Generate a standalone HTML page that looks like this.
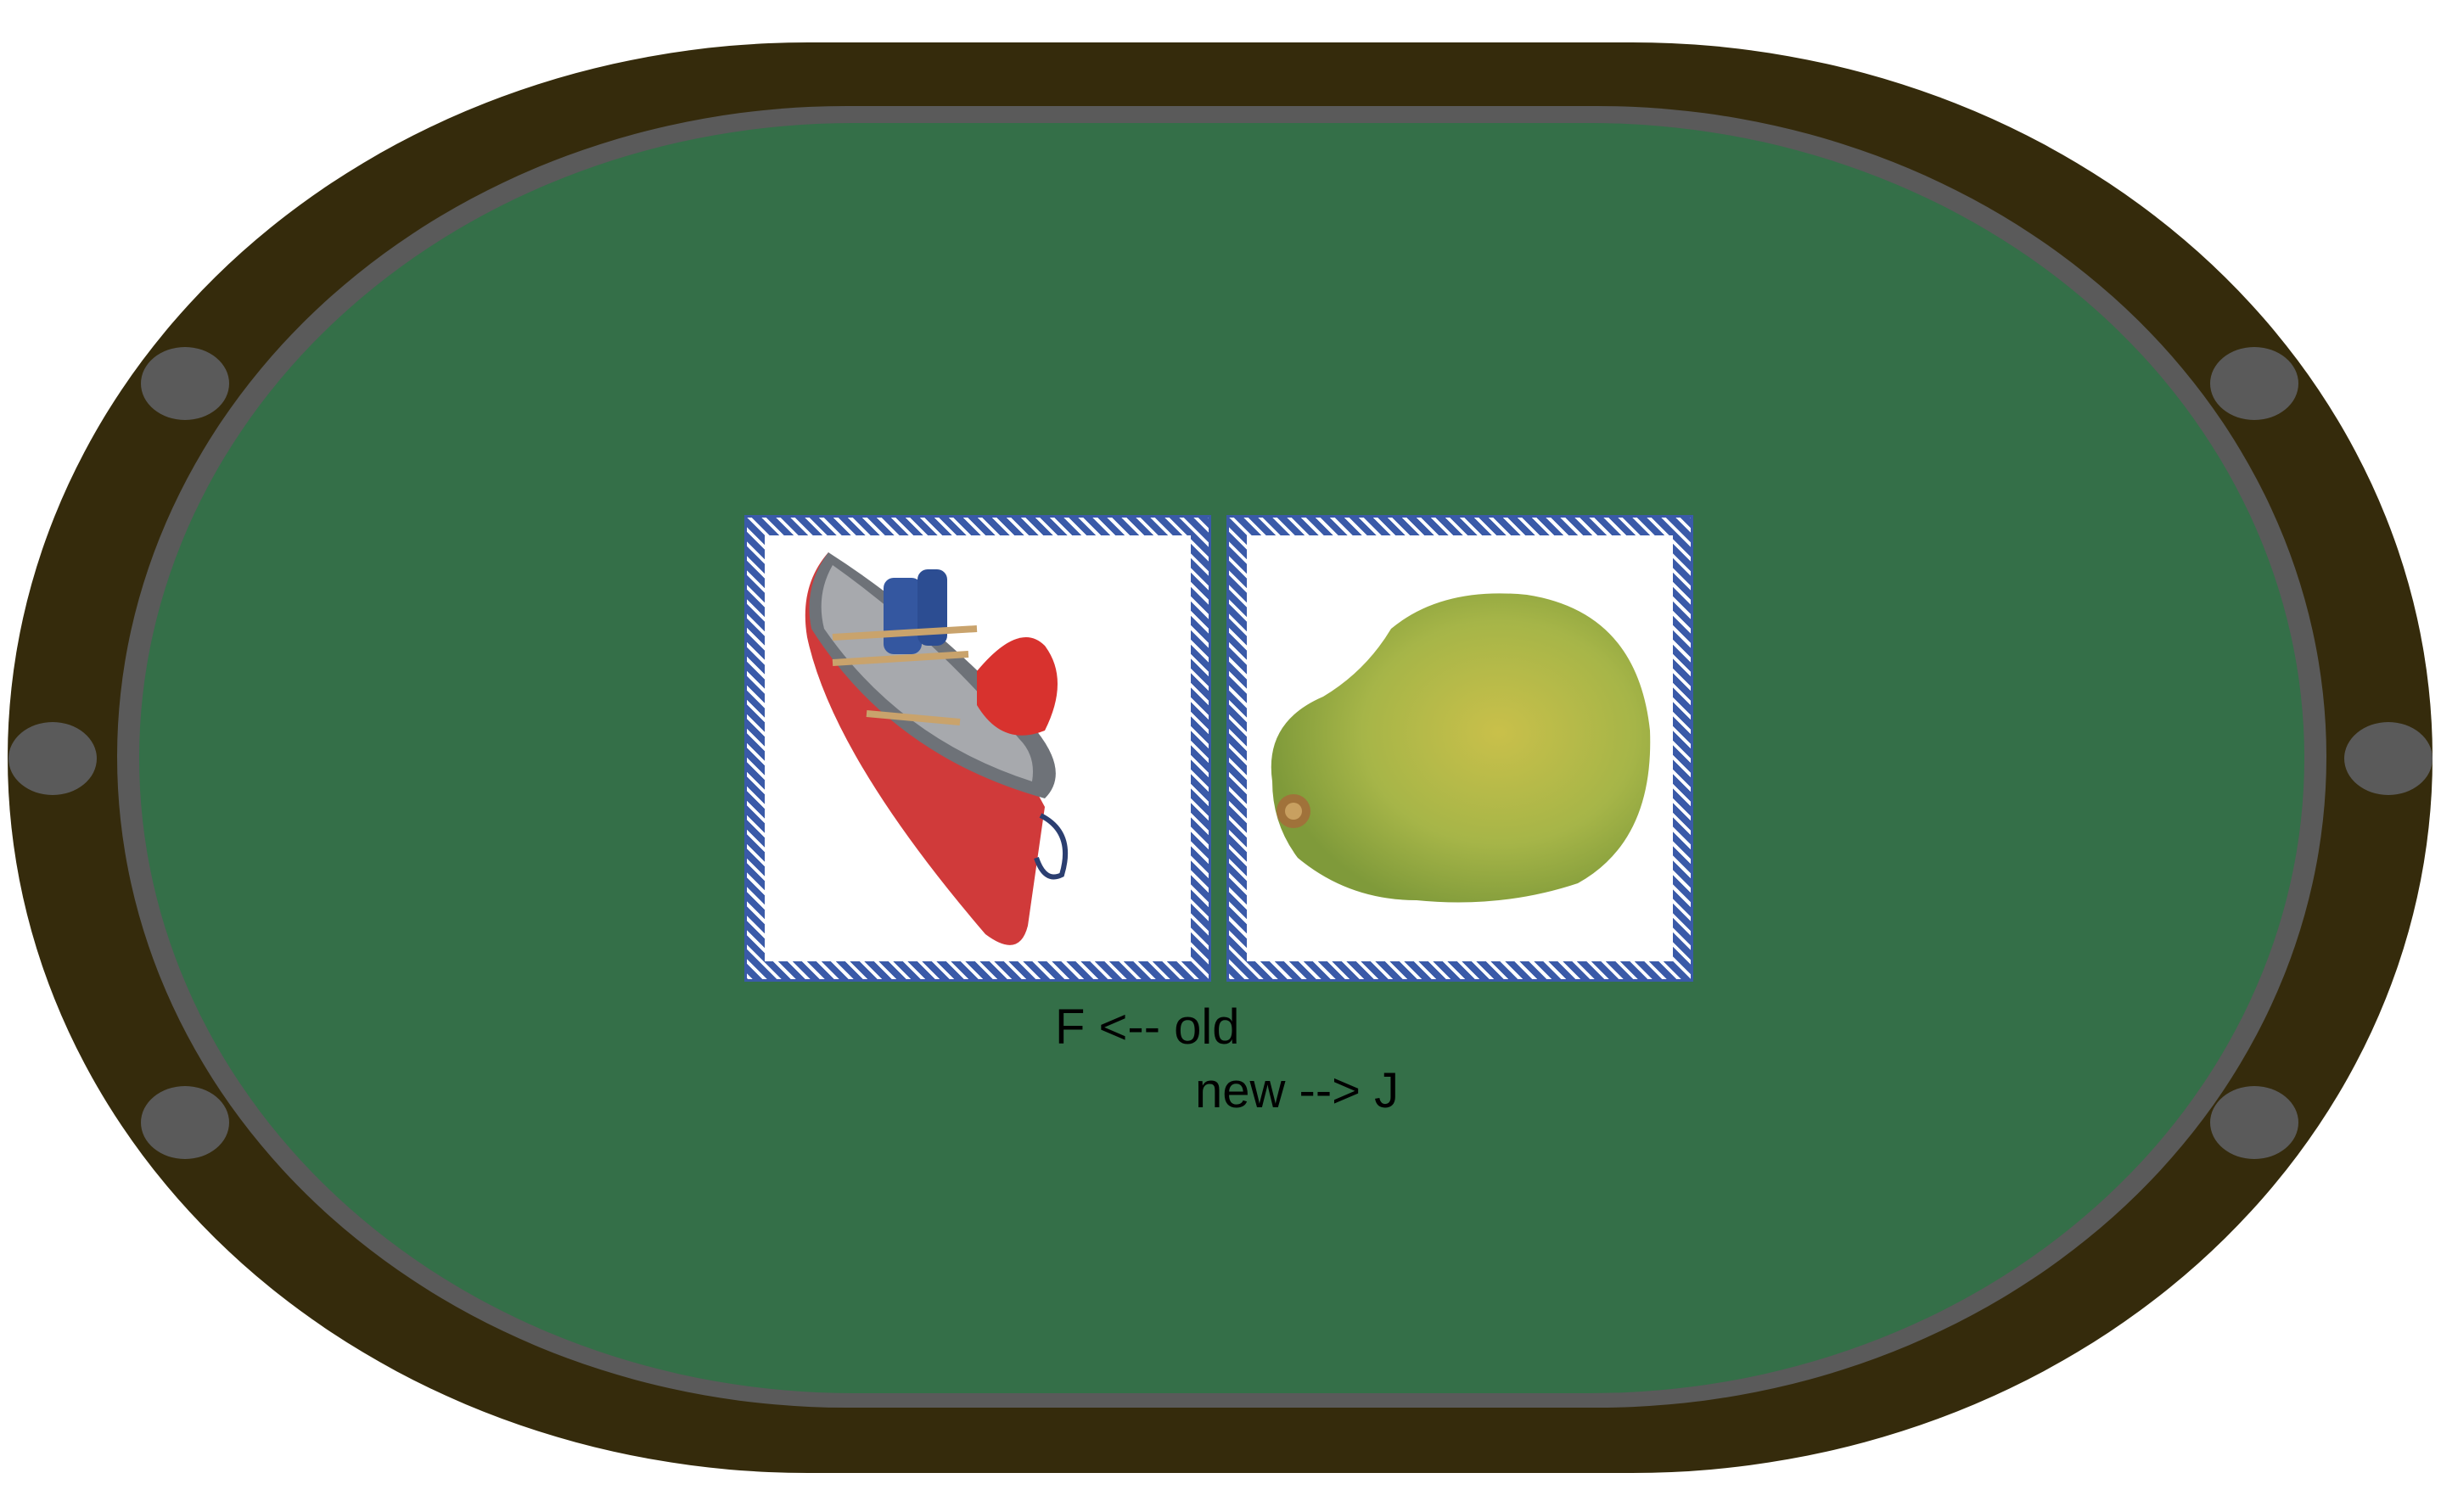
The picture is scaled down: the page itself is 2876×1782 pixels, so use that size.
<!DOCTYPE html>
<html><head><meta charset="utf-8"><style>
html,body{margin:0;padding:0;background:#fff;width:2876px;height:1782px;overflow:hidden;position:relative;font-family:"Liberation Sans",sans-serif}
.abs{position:absolute}
#outer{left:9px;top:50px;width:2857px;height:1686px;background:#352b0c;border-radius:33% / 50%}
#ring{left:138px;top:125px;width:2603px;height:1534px;background:#5a5a5a;border-radius:33% / 50%}
#felt{left:164px;top:145px;width:2551px;height:1497px;background:#346f48;border-radius:33% / 50%}
.dot{width:104px;height:86px;border-radius:50%;background:#5a5a5a}
.card{background:#fff;box-sizing:border-box;border:24px solid transparent;
 border-image:repeating-linear-gradient(45deg,#3a5aa8 0 5px,#fff 5px 9px,#3a5aa8 9px 12px) 24}
.card::after{content:"";position:absolute;inset:-24px;border:3px solid #3a5aa8}
.txt{font-size:58px;color:#000;line-height:1}
</style></head><body>
<div id="outer" class="abs"></div>
<div id="ring" class="abs"></div>
<div id="felt" class="abs"></div>
<div class="abs dot" style="left:166px;top:409px"></div>
<div class="abs dot" style="left:10px;top:851px"></div>
<div class="abs dot" style="left:166px;top:1280px"></div>
<div class="abs dot" style="left:2604px;top:409px"></div>
<div class="abs dot" style="left:2762px;top:851px"></div>
<div class="abs dot" style="left:2604px;top:1280px"></div>

<div class="abs card" style="left:877px;top:607px;width:550px;height:550px">
<svg width="502" height="502" viewBox="0 0 502 502">
<path d="M75 20 Q40 60 50 120 Q80 260 260 470 Q300 500 310 460 L330 320 Q240 150 75 20Z" fill="#d03a3a"/>
<path d="M75 20 Q45 60 55 110 Q150 260 330 310 Q360 280 320 230 Q200 100 75 20Z" fill="#6e7278"/>
<path d="M80 35 Q60 70 70 110 Q160 240 315 290 Q320 260 300 240 Q200 120 80 35Z" fill="#a7a9ad"/>
<rect x="140" y="50" width="45" height="90" rx="12" fill="#3457a0"/>
<rect x="180" y="40" width="35" height="90" rx="12" fill="#2c4d92"/>
<path d="M250 160 Q300 100 330 130 Q360 170 330 230 Q280 250 250 200Z" fill="#d8322e"/>
<path d="M80 120 L250 110 M80 150 L240 140 M120 210 L230 220" stroke="#c9a36c" stroke-width="8"/>
<path d="M325 330 Q365 350 350 400 Q330 410 320 380" stroke="#2b3e70" stroke-width="6" fill="none"/>
</svg></div>

<div class="abs card" style="left:1445px;top:607px;width:550px;height:550px">
<svg width="502" height="502" viewBox="0 0 502 502">
<defs><radialGradient id="pg" cx="60%" cy="45%" r="60%"><stop offset="0" stop-color="#c9c04a"/><stop offset="0.6" stop-color="#a6b548"/><stop offset="1" stop-color="#7f9a3a"/></radialGradient></defs>
<path d="M30 290 Q20 220 90 190 Q140 160 170 110 Q230 60 330 70 Q460 90 475 230 Q480 360 390 410 Q300 440 200 430 Q120 430 60 380 Q30 340 30 290Z" fill="url(#pg)"/>
<circle cx="55" cy="325" r="20" fill="#a0723a"/><circle cx="55" cy="325" r="10" fill="#c8a060"/>
</svg></div>

<div class="abs txt" style="left:1243px;top:1182px">F &lt;-- old</div>
<div class="abs txt" style="left:1408px;top:1257px">new --&gt; J</div>
</body></html>
